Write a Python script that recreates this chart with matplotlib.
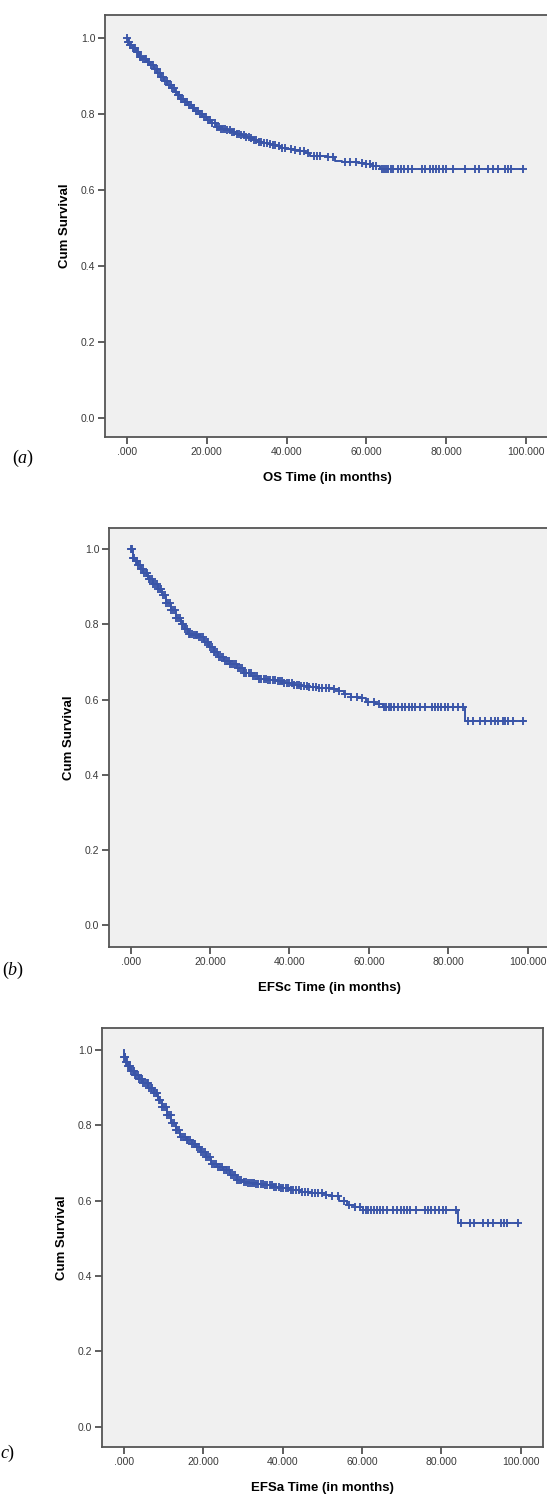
import numpy as np
import matplotlib
matplotlib.use("Agg")
import matplotlib.pyplot as plt
from matplotlib.ticker import FuncFormatter

plt.rcParams["font.family"] = ["Liberation Sans", "DejaVu Sans"]
plt.rcParams["mathtext.fontset"] = "custom"
plt.rcParams["mathtext.rm"] = "Liberation Serif"
plt.rcParams["mathtext.it"] = "Liberation Serif:italic"

# ── Data ──────────────────────────────────────────────────────────────────────
# step times (months) and survival after each step, plus censored times

OS_TIMES = [0, 0.3, 0.8, 1.5, 2.3, 3.2, 4.0, 5.0, 5.8, 6.8, 7.7, 8.5, 9.4, 10.2,
            11.1, 12.0, 12.8, 13.7, 14.6, 15.4, 16.3, 17.2, 18.0, 18.9, 20.0,
            21.2, 22.4, 23.6, 24.8, 25.9, 27.1, 28.2, 29.4, 30.6, 31.7, 32.9,
            34.1, 35.2, 36.4, 37.6, 38.7, 39.9, 41.6, 43.3, 44.6, 46.0, 48.2,
            50.3, 52.1, 54.0, 56.0, 58.0, 59.9, 61.6, 63.4]
OS_SURV = [1.0, 0.99, 0.98, 0.972, 0.962, 0.950, 0.943, 0.935, 0.928, 0.918,
           0.907, 0.897, 0.887, 0.877, 0.867, 0.858, 0.849, 0.840, 0.831, 0.823,
           0.814, 0.807, 0.799, 0.792, 0.783, 0.775, 0.766, 0.761, 0.757, 0.753,
           0.748, 0.744, 0.739, 0.735, 0.730, 0.726, 0.723, 0.721, 0.718, 0.714,
           0.710, 0.706, 0.705, 0.703, 0.696, 0.689, 0.688, 0.687, 0.676, 0.674,
           0.672, 0.670, 0.669, 0.662, 0.654]
OS_CENSOR = [0.1, 0.3, 0.6, 0.9, 1.2, 1.5, 1.8, 2.1, 2.5, 2.9, 3.3, 3.7, 4.1,
             4.5, 4.9, 5.3, 5.7, 6.1, 6.6, 7.0, 7.5, 7.9, 8.3, 8.7, 9.2, 9.6,
             10.1, 10.5, 11.0, 11.4, 11.9, 12.3, 12.8, 13.2, 13.7, 14.1, 14.6,
             15.1, 15.5, 16.0, 16.5, 16.9, 17.4, 17.9, 18.4, 18.8, 19.4, 19.9,
             20.4, 20.9, 21.4, 22.0, 22.5, 23.0, 23.6, 24.1, 24.7, 25.2, 25.8,
             26.3, 26.9, 27.5, 28.1, 28.7, 29.3, 29.9, 30.5, 31.1, 31.8, 32.4,
             33.1, 33.7, 34.4, 35.1, 35.8, 36.5, 37.2, 38.0, 38.8, 39.6, 41.0,
             42.2, 43.3, 44.5, 45.4, 46.8, 47.6, 48.5, 50.3, 51.7, 54.6, 55.8,
             57.5, 58.8, 60.0, 60.8, 61.6, 62.5, 63.8, 64.3, 64.9, 65.5, 66.1,
             66.7, 67.9, 68.7, 69.5, 70.4, 71.3, 73.8, 74.6, 75.9, 76.6, 77.4,
             78.2, 79.1, 80.0, 81.7, 84.6, 87.1, 88.3, 90.4, 91.7, 92.9, 94.6,
             95.4, 96.3, 99.2]

EFSC_TIMES = [0, 0.45, 1.0, 1.8, 2.5, 3.1, 4.4, 5.7, 6.8, 7.9, 9.0, 10.1, 11.4,
              12.7, 13.6, 14.5, 15.8, 17.2, 18.5, 19.8, 20.9, 22.0, 23.6, 25.1,
              26.8, 28.6, 30.3, 32.1, 34.3, 36.5, 38.7, 40.9, 42.6, 44.4, 47.0,
              49.6, 51.0, 52.4, 53.8, 55.5, 57.2, 59.4, 61.5, 63.6, 84.2]
EFSC_SURV = [1.0, 0.976, 0.968, 0.958, 0.947, 0.936, 0.922, 0.909, 0.894,
             0.878, 0.858, 0.838, 0.818, 0.800, 0.787, 0.776, 0.771, 0.766,
             0.754, 0.741, 0.727, 0.713, 0.704, 0.696, 0.684, 0.670, 0.662,
             0.656, 0.652, 0.650, 0.645, 0.639, 0.636, 0.634, 0.632, 0.630,
             0.628, 0.622, 0.616, 0.608, 0.603, 0.594, 0.587, 0.579, 0.544]
EFSC_CENSOR = [0.1, 0.3, 0.6, 0.9, 1.2, 1.6, 1.9, 2.3, 2.6, 3.0, 3.4, 3.8, 4.1,
               4.5, 4.9, 5.3, 5.7, 6.1, 6.5, 6.9, 7.3, 7.7, 8.1, 8.5, 9.0, 9.4,
               9.8, 10.2, 10.7, 11.1, 11.5, 12.0, 12.4, 12.8, 13.2, 13.7, 14.1,
               14.6, 15.0, 15.5, 15.9, 16.4, 16.8, 17.3, 17.7, 18.2, 18.6, 19.1,
               19.5, 20.0, 20.4, 20.9, 21.3, 21.8, 22.3, 22.8, 23.2, 23.7, 24.2,
               24.7, 25.1, 25.6, 26.1, 26.6, 27.1, 27.6, 28.1, 28.6, 29.1, 29.7,
               30.2, 30.7, 31.2, 31.8, 32.3, 32.9, 33.5, 34.0, 34.6, 35.2, 35.8,
               36.4, 37.0, 37.6, 38.1, 38.7, 39.3, 40.0, 40.6, 41.2, 41.8, 42.4,
               43.0, 43.7, 44.3, 45.0, 45.8, 46.6, 47.5, 48.3, 49.1, 50.0, 51.2,
               52.6, 54.1, 55.5, 56.9, 58.3, 59.7, 61.2, 62.6, 63.8, 64.4, 65.0,
               65.7, 66.4, 67.4, 68.3, 69.2, 70.0, 70.8, 71.6, 72.9, 74.1, 75.8,
               76.6, 77.5, 78.3, 79.2, 80.0, 81.1, 82.4, 83.7, 85.0, 86.3, 87.9,
               89.2, 90.9, 91.7, 92.5, 93.8, 94.4, 95.0, 96.3, 98.8]

EFSA_TIMES = [0, 0.1, 0.5, 0.9, 1.7, 2.6, 3.7, 4.8, 6.1, 7.5, 8.6, 9.7, 10.8,
              11.9, 13.0, 14.1, 15.6, 17.1, 18.2, 19.3, 20.6, 22.0, 23.5, 25.0,
              26.8, 28.6, 29.9, 31.2, 33.4, 35.6, 37.4, 39.1, 41.8, 44.4, 47.0,
              49.6, 51.0, 52.3, 54.2, 56.1, 58.2, 60.3, 84.2]
EFSA_SURV = [1.0, 0.982, 0.968, 0.956, 0.945, 0.934, 0.923, 0.912, 0.899,
             0.885, 0.867, 0.849, 0.827, 0.805, 0.787, 0.768, 0.760, 0.751,
             0.741, 0.730, 0.715, 0.698, 0.690, 0.680, 0.667, 0.655, 0.650,
             0.646, 0.644, 0.641, 0.637, 0.633, 0.628, 0.624, 0.621, 0.619,
             0.615, 0.611, 0.600, 0.589, 0.582, 0.575, 0.540]
EFSA_CENSOR = [0.1, 0.2, 0.4, 0.6, 0.8, 1.0, 1.3, 1.6, 1.9, 2.2, 2.5, 2.8, 3.1,
               3.5, 3.8, 4.2, 4.5, 4.9, 5.3, 5.7, 6.0, 6.4, 6.8, 7.2, 7.6, 8.0,
               8.4, 8.8, 9.2, 9.7, 10.1, 10.5, 10.9, 11.4, 11.8, 12.2, 12.6,
               13.1, 13.5, 14.0, 14.4, 14.9, 15.3, 15.8, 16.2, 16.7, 17.1, 17.6,
               18.0, 18.5, 18.9, 19.4, 19.9, 20.4, 20.8, 21.3, 21.8, 22.3, 22.7,
               23.2, 23.7, 24.2, 24.7, 25.2, 25.6, 26.1, 26.6, 27.1, 27.6, 28.1,
               28.6, 29.1, 29.6, 30.2, 30.7, 31.2, 31.7, 32.3, 32.8, 33.4, 33.9,
               34.5, 35.0, 35.6, 36.1, 36.7, 37.3, 37.8, 38.4, 39.0, 39.6, 40.2,
               40.8, 41.4, 42.0, 42.7, 43.3, 44.0, 44.8, 45.6, 46.4, 47.3, 48.1,
               49.0, 49.8, 51.0, 52.5, 54.0, 55.4, 56.8, 58.2, 59.6, 60.3, 60.9,
               61.6, 62.3, 63.0, 63.8, 64.6, 65.4, 66.2, 67.9, 68.8, 69.7, 70.5,
               71.3, 72.1, 73.7, 75.8, 76.6, 77.5, 78.4, 79.3, 80.3, 81.2, 83.7,
               85.0, 87.1, 88.3, 90.4, 91.7, 92.9, 95.0, 95.8, 96.6, 99.3]

X_TICKS = [0, 20, 40, 60, 80, 100]
Y_TICKS = [0.0, 0.2, 0.4, 0.6, 0.8, 1.0]

# ── Layout (pixels in a 547 x 1494 figure) ────────────────────────────────────
W, H = 547, 1494
COLOR_LINE = "#3a55a8"
COLOR_BG = "#f0f0f0"
COLOR_SPINE = "#555555"

panels = [
    dict(t=OS_TIMES, s=OS_SURV, c=OS_CENSOR, end=99.2,
         xlabel="OS Time (in months)", tag=r"$(a)$",
         box=(105, 549, 15, 437), xlim=(-5.43, 105.7), ylim=(-0.051, 1.06),
         tag_xy=(12, 458)),
    dict(t=EFSC_TIMES, s=EFSC_SURV, c=EFSC_CENSOR, end=99.3,
         xlabel="EFSc Time (in months)", tag=r"$(b)$",
         box=(109, 549, 528, 947), xlim=(-5.49, 105.4), ylim=(-0.059, 1.057),
         tag_xy=(2, 970)),
    dict(t=EFSA_TIMES, s=EFSA_SURV, c=EFSA_CENSOR, end=99.3,
         xlabel="EFSa Time (in months)", tag=r"$c)$",
         box=(102, 543, 1028, 1447), xlim=(-5.52, 105.6), ylim=(-0.054, 1.058),
         tag_xy=(0, 1453)),
]


def x_fmt(v, pos):
    s = f"{v:.3f}"
    return s[1:] if s.startswith("0.") else s


def step_value(times, surv, x):
    idx = np.searchsorted(times, x, side="right") - 1
    return np.asarray(surv)[idx]


fig = plt.figure(figsize=(W / 100, H / 100), dpi=100)

for p in panels:
    l, r, t, b = p["box"]
    ax = fig.add_axes([l / W, 1 - b / H, (r - l) / W, (b - t) / H])
    ax.set_facecolor(COLOR_BG)

    times = np.asarray(p["t"])
    surv = np.asarray(p["s"])
    ax.step(np.append(times, p["end"]), np.append(surv, surv[-1]),
            where="post", color=COLOR_LINE, linewidth=1.4)

    cens = np.asarray(p["c"])
    ax.plot(cens, step_value(times, surv, cens), linestyle="none",
            marker="+", markersize=5.3, markeredgewidth=1.35, color=COLOR_LINE)

    ax.set_xlim(*p["xlim"])
    ax.set_ylim(*p["ylim"])
    ax.set_xticks(X_TICKS)
    ax.set_yticks(Y_TICKS)
    ax.xaxis.set_major_formatter(FuncFormatter(x_fmt))
    ax.yaxis.set_major_formatter(FuncFormatter(lambda v, pos: f"{v:.1f}"))
    ax.tick_params(direction="out", length=5, width=1.1, color="#333333",
                   labelsize=7.5, labelcolor="#3a3a3a", pad=2)

    for sp in ax.spines.values():
        sp.set_color(COLOR_SPINE)
        sp.set_linewidth(1.3)

    ax.set_xlabel(p["xlabel"], fontsize=9.5, fontweight="bold", labelpad=11)
    ax.set_ylabel("Cum Survival", fontsize=9.5, fontweight="bold", labelpad=7)

    fig.text(p["tag_xy"][0] / W, 1 - p["tag_xy"][1] / H, p["tag"],
             fontsize=13, ha="left", va="center")

fig.savefig("out.png", dpi=100, facecolor="white")
